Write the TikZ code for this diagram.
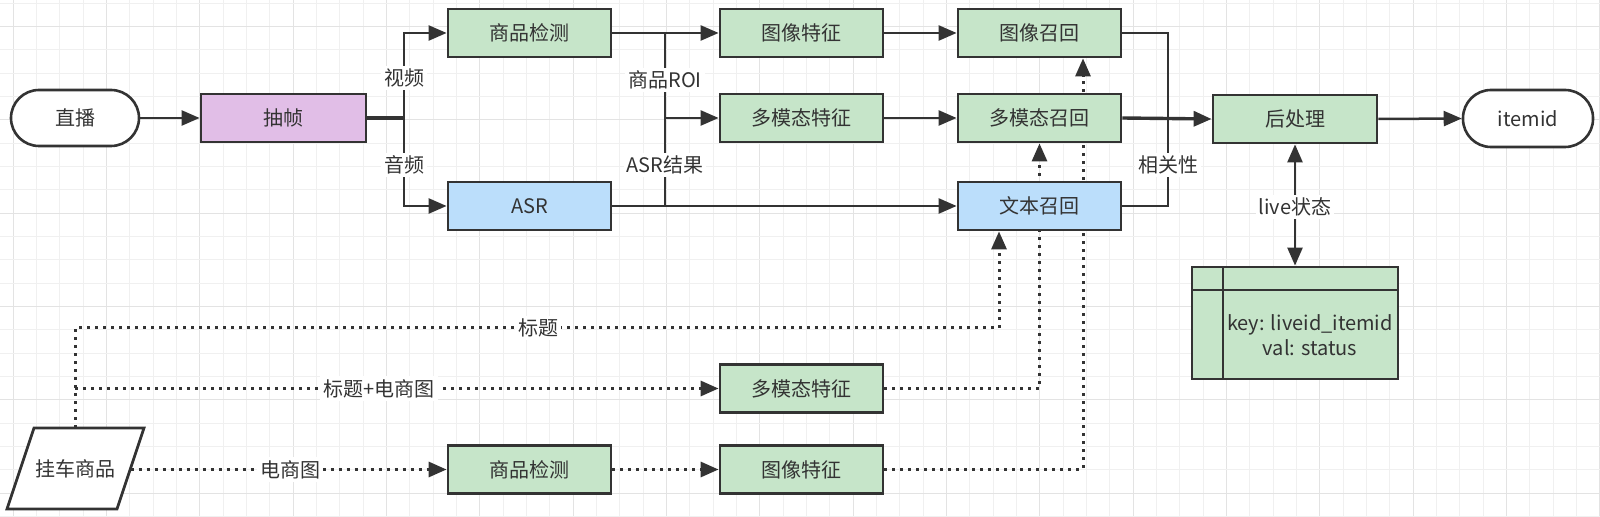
\documentclass[tikz,border=0pt]{standalone}
\usepackage{fontspec}
\setmainfont{Noto Sans CJK SC}
\usetikzlibrary{arrows.meta}
\definecolor{lc}{HTML}{333333}
\definecolor{gfill}{HTML}{C6E5C9}
\definecolor{pfill}{HTML}{E1BEE7}
\definecolor{bfill}{HTML}{BBDEFB}
\definecolor{gminor}{HTML}{F0F0F0}
\definecolor{gmajor}{HTML}{E3E3E3}
\pgfdeclarelayer{gridlayer}
\pgfdeclarelayer{edgelayer}
\pgfsetlayers{gridlayer,edgelayer,main}
\begin{document}
\begin{tikzpicture}[x=0.5pt,y=-0.5pt,
  font=\fontsize{10}{12.5}\selectfont,
  box/.style={draw=lc,line width=1.4pt,minimum width=81.5pt,minimum height=24pt,inner sep=0pt,text=lc},
  gbox/.style={box,fill=gfill},
  bbox/.style={box,fill=bfill},
  pbox/.style={box,fill=pfill},
  pill/.style={draw=lc,line width=1.3pt,rounded corners=14pt,fill=white,minimum height=28pt,inner sep=0pt,text=lc},
  conn/.style={draw=lc,line width=1.25pt},
  arr/.style={conn,-{Triangle[length=9pt,width=7.5pt]}},
  dotline/.style={conn,line width=1.5pt,dash pattern=on 1.5pt off 2.5pt},
  darr/.style={dotline,-{Triangle[length=9pt,width=7.5pt]}},
  lbl/.style={fill=white,inner sep=1.5pt,text=lc},
  gmin/.style={draw=gminor,line width=0.5pt},
  gmaj/.style={draw=gmajor,line width=0.5pt}]
\useasboundingbox (0,0) rectangle (1600,517);
\begin{pgfonlayer}{gridlayer}
  \fill[white] (0,0) rectangle (1600,517);
  \foreach \i in {0,...,68}{
    \pgfmathsetmacro\xx{13.333+23.333*\i}
    \pgfmathtruncatemacro\mm{mod(\i,4)}
    \ifnum\mm=0 \draw[gmaj] (\xx,0) -- (\xx,517); \else \draw[gmin] (\xx,0) -- (\xx,517); \fi
  }
  \foreach \j in {0,...,22}{
    \pgfmathsetmacro\yy{3.333+23.333*\j}
    \pgfmathtruncatemacro\mm{mod(\j,4)}
    \ifnum\mm=1 \draw[gmaj] (0,\yy) -- (1600,\yy); \else \draw[gmin] (0,\yy) -- (1600,\yy); \fi
  }
\end{pgfonlayer}

% nodes
\node[pill,minimum width=64pt] (zb) at (75,118) {直播};
\node[pbox,minimum width=82.5pt] (cz) at (283.5,118) {抽帧};
\node[gbox] (spjc) at (529.5,33) {商品检测};
\node[bbox] (asr) at (529.5,206) {ASR};
\node[gbox] (txtz) at (801.5,33) {图像特征};
\node[gbox] (dmttz) at (801.5,118) {多模态特征};
\node[gbox] (txzh) at (1039.5,33) {图像召回};
\node[gbox] (dmtzh) at (1039.5,118) {多模态召回};
\node[bbox] (wbzh) at (1039.5,206) {文本召回};
\node[gbox,minimum width=82pt] (hcl) at (1295,119) {后处理};
\node[pill,minimum width=65pt,minimum height=28.5pt] (item) at (1528,118.5) {itemid};
\node[gbox,minimum width=103pt,minimum height=56pt] (tbl) at (1295,323) {};
\draw[draw=lc,line width=1.4pt] (1223,267) -- (1223,379);
\draw[draw=lc,line width=1.4pt] (1192,290) -- (1398,290);
\node[align=center,text=lc,inner sep=0pt] (tbltxt) at (1310,335.5) {key: liveid\_itemid\\val: status};

\node[gbox] (dmttz2) at (801.5,388.5) {多模态特征};
\node[gbox] (spjc2) at (529.5,469.5) {商品检测};
\node[gbox] (txtz2) at (801.5,469.5) {图像特征};
\draw[draw=lc,line width=1.4pt,fill=white] (34,428) -- (144,428) -- (117,509) -- (7,509) -- cycle;
\node[text=lc] (gc) at (75.5,468.5) {挂车商品};
\coordinate (gctop) at (75,428);
\coordinate (gcright) at (130.5,469.5);

% labels
\node[lbl] (lsp) at (404,78) {视频};
\node[lbl] (lyp) at (404,165) {音频};
\node[lbl] (lroi) at (665,80) {商品ROI};
\node[lbl] (lasr) at (665,165) {ASR结果};
\node[lbl] (lxg) at (1168,165) {相关性};
\node[lbl] (llive) at (1295,207) {live状态};
\node[lbl] (lbt) at (538,328) {标题};
\node[lbl] (lbtd) at (379,388.5) {标题+电商图};
\node[lbl] (lds) at (290,469.5) {电商图};

\coordinate (j1) at (404,118);
\coordinate (j1t) at (404,33);
\coordinate (j1b) at (404,206);
\coordinate (j2t) at (665,33);
\coordinate (j2m) at (665,118);
\coordinate (j2b) at (665,206);
\coordinate (j3t) at (1168,33);
\coordinate (j3b) at (1168,206);
\coordinate (d1) at (75,328);
\coordinate (d1r) at (999,328);
\coordinate (d2) at (75,388.5);
\coordinate (d3) at (1083,469.5);

\begin{pgfonlayer}{edgelayer}
  \draw[arr] (zb.east) -- (cz.west);
  \draw[conn,line width=2.2pt] (cz.east) -- (j1);
  \draw[arr] (j1) -- (j1t) -- (spjc.west);
  \draw[arr] (j1) -- (j1b) -- (asr.west);
  \draw[arr] (spjc.east) -- (txtz.west);
  \draw[conn] (j2t) -- (j2b);
  \draw[arr] (j2m) -- (dmttz.west);
  \draw[arr] (asr.east) -- (wbzh.west);
  \draw[arr] (txtz.east) -- (txzh.west);
  \draw[arr] (dmttz.east) -- (dmtzh.west);
  \draw[conn] (txzh.east) -- (j3t) -- (j3b) -- (wbzh.east);
  \draw[arr,line width=1.7pt] (dmtzh.east) -- (hcl.west);
  \draw[arr] (hcl.east) -- (item.west);
  \draw[conn,{Triangle[length=9pt,width=7.5pt]}-{Triangle[length=9pt,width=7.5pt]}] (hcl.south) -- (tbl.north);
  \draw[darr] (gctop) -- (d1) -- (d1r) -- (d1r |- wbzh.south);
  \draw[darr] (d2) -- (dmttz2.west);
  \draw[darr] (gcright) -- (spjc2.west);
  \draw[darr] (spjc2.east) -- (txtz2.west);
  \draw[darr] (dmttz2.east) -| (dmtzh.south);
  \draw[darr] (txtz2.east) -- (d3) -- (d3 |- txzh.south);
\end{pgfonlayer}
\end{tikzpicture}
\end{document}
